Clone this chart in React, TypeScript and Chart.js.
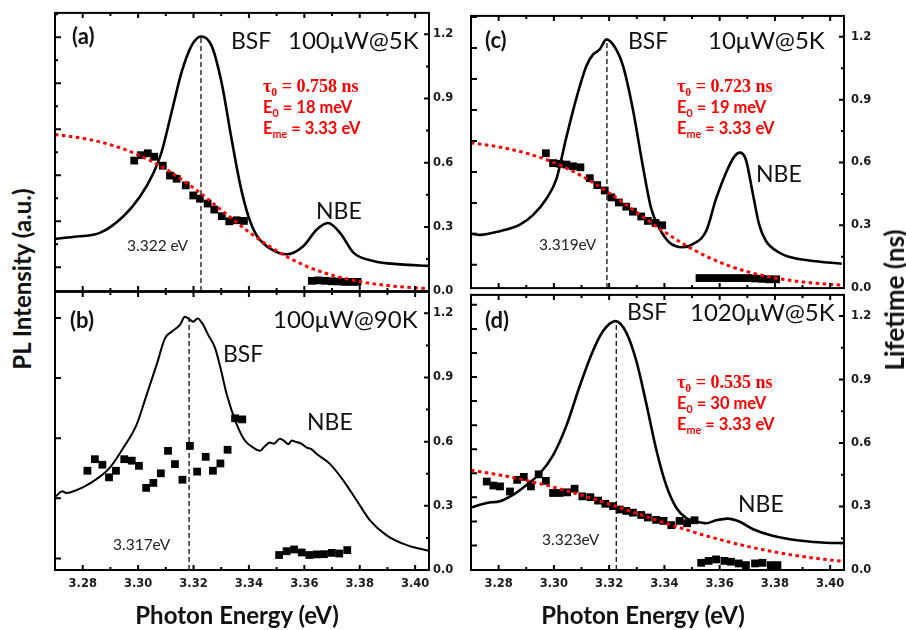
import React, { useEffect, useRef } from 'react';
import { Chart, registerables } from 'chart.js';

Chart.register(...registerables);

// ---------- shared axes ----------
const X_MIN = 3.27;
const X_MAX = 3.405;
const Y_MAX = 1.3;
const X_TICKS = [3.28, 3.3, 3.32, 3.34, 3.36, 3.38, 3.4];
const X_TICK_LABELS = ['3.28', '3.30', '3.32', '3.34', '3.36', '3.38', '3.40'];
const Y_TICKS = [0, 0.3, 0.6, 0.9, 1.2];
const Y_TICK_LABELS = ['0.0', '0.3', '0.6', '0.9', '1.2'];
const FIT_E = [3.27, 3.28, 3.29, 3.3, 3.31, 3.32, 3.33, 3.34, 3.35, 3.36, 3.37, 3.38, 3.39, 3.4, 3.405];

// ---------- panel (a) 100uW@5K ----------
const A_PL_E = [3.2703, 3.278, 3.2862, 3.2947, 3.3007, 3.3055, 3.3085, 3.3121, 3.3157, 3.3193, 3.3227, 3.3265, 3.3301, 3.3337, 3.3368, 3.3398, 3.3428, 3.3488, 3.3536, 3.3596, 3.3645, 3.3685, 3.3729, 3.3777, 3.3849, 3.3945, 3.405];
const A_PL_I = [0.245, 0.255, 0.272, 0.35, 0.442, 0.551, 0.651, 0.837, 1.023, 1.147, 1.19, 1.147, 0.976, 0.713, 0.5, 0.35, 0.26, 0.19, 0.172, 0.21, 0.288, 0.318, 0.272, 0.18, 0.141, 0.125, 0.118];
const A_LT_E = [3.2986, 3.301, 3.3035, 3.3058, 3.3089, 3.3115, 3.3139, 3.3172, 3.3199, 3.3223, 3.3251, 3.3275, 3.3302, 3.3329, 3.3356, 3.3382, 3.3627, 3.3651, 3.3675, 3.3699, 3.3723, 3.3747, 3.377, 3.3792];
const A_LT_V = [0.61, 0.635, 0.644, 0.628, 0.586, 0.54, 0.525, 0.494, 0.447, 0.432, 0.409, 0.381, 0.35, 0.326, 0.331, 0.328, 0.048, 0.05, 0.048, 0.046, 0.045, 0.043, 0.043, 0.043];
const A_FIT_V = [0.732, 0.714, 0.684, 0.637, 0.57, 0.482, 0.379, 0.276, 0.188, 0.1205, 0.0742, 0.0444, 0.0261, 0.0152, 0.0116];
const A_PEAK_E = 3.3227;
const A_PEAK_I = 1.19;

// ---------- panel (b) 100uW@90K ----------
const B_PL_E = [3.2704, 3.2715, 3.2727, 3.274, 3.2754, 3.2802, 3.2851, 3.2899, 3.2947, 3.2995, 3.3031, 3.3067, 3.3097, 3.3121, 3.3151, 3.3169, 3.3184, 3.3199, 3.3215, 3.3235, 3.3253, 3.3278, 3.33, 3.332, 3.3356, 3.3386, 3.3416, 3.344, 3.3455, 3.3476, 3.349, 3.3512, 3.353, 3.3542, 3.3555, 3.3566, 3.359, 3.3609, 3.3625, 3.3645, 3.3693, 3.3741, 3.3789, 3.3837, 3.3897, 3.397, 3.4048];
const B_PL_I = [0.344, 0.36, 0.368, 0.36, 0.362, 0.387, 0.426, 0.48, 0.572, 0.681, 0.82, 0.96, 1.083, 1.114, 1.146, 1.184, 1.173, 1.161, 1.176, 1.146, 1.099, 1.037, 0.93, 0.82, 0.681, 0.604, 0.572, 0.557, 0.575, 0.596, 0.59, 0.614, 0.6, 0.588, 0.605, 0.6, 0.59, 0.572, 0.565, 0.542, 0.495, 0.418, 0.325, 0.232, 0.162, 0.116, 0.09];
const B_LT_E = [3.2817, 3.2844, 3.2871, 3.2895, 3.292, 3.295, 3.2977, 3.3003, 3.3029, 3.3055, 3.3082, 3.3108, 3.3133, 3.316, 3.3187, 3.3213, 3.3244, 3.327, 3.3297, 3.3323, 3.335, 3.3376, 3.3509, 3.3536, 3.3563, 3.3591, 3.3618, 3.3645, 3.3671, 3.3699, 3.3726, 3.3755];
const B_LT_V = [0.464, 0.518, 0.492, 0.433, 0.464, 0.518, 0.511, 0.487, 0.384, 0.407, 0.452, 0.557, 0.495, 0.422, 0.58, 0.46, 0.529, 0.464, 0.498, 0.562, 0.709, 0.704, 0.07, 0.088, 0.096, 0.082, 0.07, 0.073, 0.074, 0.08, 0.077, 0.093];
const B_PEAK_E = 3.3184;
const B_PEAK_I = 1.18;

// ---------- panel (c) 10uW@5K ----------
const C_PL_E = [3.2703, 3.2732, 3.2805, 3.2877, 3.2925, 3.2973, 3.3009, 3.3045, 3.3082, 3.3118, 3.3142, 3.3166, 3.319, 3.3226, 3.325, 3.3286, 3.3322, 3.3352, 3.3382, 3.3418, 3.3466, 3.3503, 3.3551, 3.3587, 3.3623, 3.3653, 3.3674, 3.3695, 3.3719, 3.3743, 3.3767, 3.3815, 3.385, 3.3924, 3.4042];
const C_PL_I = [0.26, 0.254, 0.272, 0.303, 0.35, 0.427, 0.52, 0.72, 0.91, 1.062, 1.116, 1.14, 1.188, 1.139, 1.062, 0.853, 0.582, 0.381, 0.285, 0.218, 0.195, 0.21, 0.272, 0.427, 0.551, 0.628, 0.647, 0.613, 0.458, 0.303, 0.226, 0.17, 0.15, 0.132, 0.116];
const C_LT_E = [3.2971, 3.2997, 3.3021, 3.3045, 3.3069, 3.3096, 3.313, 3.3157, 3.3184, 3.3208, 3.3235, 3.3262, 3.3286, 3.3316, 3.334, 3.3368, 3.3392, 3.3527, 3.3552, 3.3577, 3.3602, 3.3628, 3.3653, 3.3678, 3.3703, 3.3728, 3.3754, 3.3779, 3.3804];
const C_LT_V = [0.644, 0.597, 0.594, 0.59, 0.582, 0.577, 0.525, 0.492, 0.466, 0.433, 0.409, 0.389, 0.365, 0.342, 0.321, 0.311, 0.3, 0.048, 0.048, 0.048, 0.048, 0.048, 0.048, 0.048, 0.048, 0.046, 0.044, 0.042, 0.042];
const C_FIT_V = [0.6935, 0.6745, 0.6445, 0.5994, 0.536, 0.4544, 0.3615, 0.2686, 0.187, 0.1236, 0.0785, 0.0485, 0.0295, 0.0177, 0.0137];
const C_PEAK_E = 3.3192;
const C_PEAK_I = 1.188;

// ---------- panel (d) 1020uW@5K ----------
const D_PL_E = [3.2703, 3.2757, 3.2805, 3.2853, 3.2901, 3.2949, 3.2997, 3.3045, 3.3093, 3.3142, 3.3178, 3.3223, 3.3262, 3.3298, 3.3334, 3.337, 3.3406, 3.3443, 3.3479, 3.3515, 3.3551, 3.3587, 3.3629, 3.3671, 3.3719, 3.3791, 3.3888, 3.3984, 3.4047];
const D_PL_I = [0.297, 0.317, 0.325, 0.356, 0.402, 0.456, 0.542, 0.681, 0.867, 1.037, 1.129, 1.176, 1.122, 0.99, 0.789, 0.572, 0.402, 0.294, 0.245, 0.229, 0.221, 0.235, 0.243, 0.229, 0.194, 0.162, 0.139, 0.129, 0.127];
const D_LT_E = [3.2757, 3.2781, 3.2805, 3.2841, 3.2867, 3.2891, 3.2917, 3.2945, 3.2971, 3.2997, 3.3021, 3.3048, 3.3075, 3.3103, 3.3132, 3.316, 3.3186, 3.3214, 3.3238, 3.3262, 3.3286, 3.3316, 3.334, 3.337, 3.3397, 3.3425, 3.3455, 3.3482, 3.3509, 3.3533, 3.356, 3.3587, 3.3617, 3.3641, 3.3669, 3.3695, 3.3728, 3.3755, 3.3785, 3.3809];
const D_LT_V = [0.418, 0.399, 0.395, 0.371, 0.426, 0.44, 0.395, 0.452, 0.421, 0.364, 0.364, 0.367, 0.384, 0.348, 0.344, 0.328, 0.313, 0.302, 0.286, 0.279, 0.271, 0.26, 0.248, 0.237, 0.232, 0.212, 0.232, 0.221, 0.235, 0.034, 0.043, 0.05, 0.043, 0.039, 0.031, 0.023, 0.031, 0.034, 0.023, 0.023];
const D_FIT_V = [0.4712, 0.45, 0.4234, 0.3911, 0.3535, 0.3117, 0.2675, 0.2233, 0.1815, 0.1439, 0.1116, 0.085, 0.0638, 0.0473, 0.0406];
const D_PEAK_E = 3.3226;
const D_PEAK_I = 1.176;

const pts = (xs: number[], ys: number[]) => xs.map((x, i) => ({ x, y: ys[i] }));

type PanelCfg = {
  id: string;
  left: number; top: number; w: number; h: number;
  xh: number; rw: number; tickPad: number; showX: boolean;
  plE: number[]; plI: number[]; plWidth: number;
  ltE: number[]; ltV: number[];
  fitV: number[] | null;
  peakE: number; peakI: number;
  lStart: number; lStep: number; lMinor: boolean;
};

const PANELS: PanelCfg[] = [
  { id: 'a', left: 45, top: 2, w: 420, h: 300, xh: 10, rw: 36, tickPad: 4, showX: false,
    plE: A_PL_E, plI: A_PL_I, plWidth: 2.6, ltE: A_LT_E, ltV: A_LT_V, fitV: A_FIT_V,
    peakE: A_PEAK_E, peakI: A_PEAK_I, lStart: 0.111, lStep: 0.215, lMinor: true },
  { id: 'b', left: 45, top: 281, w: 420, h: 319, xh: 30, rw: 36, tickPad: 4, showX: true,
    plE: B_PL_E, plI: B_PL_I, plWidth: 2, ltE: B_LT_E, ltV: B_LT_V, fitV: null,
    peakE: B_PEAK_E, peakI: B_PEAK_I, lStart: 0.054, lStep: 0.281, lMinor: false },
  { id: 'c', left: 461, top: 2, w: 445, h: 300, xh: 10, rw: 62, tickPad: 7, showX: false,
    plE: C_PL_E, plI: C_PL_I, plWidth: 2.6, ltE: C_LT_E, ltV: C_LT_V, fitV: C_FIT_V,
    peakE: C_PEAK_E, peakI: C_PEAK_I, lStart: 0.111, lStep: 0.148, lMinor: false },
  { id: 'd', left: 461, top: 281, w: 445, h: 319, xh: 30, rw: 62, tickPad: 7, showX: true,
    plE: D_PL_E, plI: D_PL_I, plWidth: 2.6, ltE: D_LT_E, ltV: D_LT_V, fitV: D_FIT_V,
    peakE: D_PEAK_E, peakI: D_PEAK_I, lStart: 0.116, lStep: 0.1137, lMinor: false },
];

function framePlugin(p: PanelCfg) {
  return {
    id: 'frame' + p.id,
    afterDatasetsDraw(chart: any) {
      const { ctx, chartArea } = chart;
      const { left, right, top, bottom } = chartArea;
      const xs = chart.scales.x;
      const ys = chart.scales.y1;
      ctx.save();
      ctx.strokeStyle = '#000';
      ctx.lineWidth = 2;
      ctx.beginPath();
      const xTick = (v: number, len: number) => {
        const px = xs.getPixelForValue(v);
        ctx.moveTo(px, bottom); ctx.lineTo(px, bottom - len);
        ctx.moveTo(px, top); ctx.lineTo(px, top + len);
      };
      X_TICKS.forEach((v, i) => {
        xTick(v, 5);
        if (i < X_TICKS.length - 1) xTick((v + X_TICKS[i + 1]) / 2, 3);
      });
      Y_TICKS.forEach((v, i) => {
        const py = ys.getPixelForValue(v);
        ctx.moveTo(right, py); ctx.lineTo(right - 5, py);
        const m = i < Y_TICKS.length - 1 ? (v + Y_TICKS[i + 1]) / 2 : v + (Y_TICKS[1] - Y_TICKS[0]) / 2;
        if (m < Y_MAX) {
          const pm = ys.getPixelForValue(m);
          ctx.moveTo(right, pm); ctx.lineTo(right - 3, pm);
        }
      });
      for (let t = p.lStart; t < Y_MAX; t += p.lStep) {
        const py = ys.getPixelForValue(t);
        ctx.moveTo(left, py); ctx.lineTo(left + 6, py);
        if (p.lMinor && t + p.lStep / 2 < Y_MAX) {
          const pm = ys.getPixelForValue(t + p.lStep / 2);
          ctx.moveTo(left, pm); ctx.lineTo(left + 3, pm);
        }
      }
      ctx.stroke();
      ctx.lineWidth = 2;
      ctx.strokeRect(left, top, right - left, bottom - top);
      ctx.restore();
    },
  };
}

function Panel({ p }: { p: PanelCfg }) {
  const ref = useRef<HTMLCanvasElement>(null);
  useEffect(() => {
    if (!ref.current) return;
    const datasets: any[] = [];
    if (p.fitV) {
      datasets.push({
        type: 'line', data: pts(FIT_E, p.fitV), borderColor: '#ff0000', borderWidth: 3,
        borderDash: [3.5, 3.5], pointRadius: 0, cubicInterpolationMode: 'monotone', yAxisID: 'y1', fill: false,
      });
    }
    datasets.push({
      type: 'scatter', data: pts(p.ltE, p.ltV), pointStyle: 'rect', pointRadius: 5.5,
      backgroundColor: '#000', borderColor: '#000', borderWidth: 0, showLine: false, yAxisID: 'y1',
    });
    datasets.push({
      type: 'line', data: pts(p.plE, p.plI), borderColor: '#000', borderWidth: p.plWidth,
      pointRadius: 0, cubicInterpolationMode: 'monotone', yAxisID: 'y', fill: false,
    });
    datasets.push({
      type: 'line', data: [{ x: p.peakE, y: 0 }, { x: p.peakE, y: p.peakI }], borderColor: '#222',
      borderWidth: 1.4, borderDash: [5, 3], pointRadius: 0, yAxisID: 'y', fill: false,
    });
    const tickFont = { family: '"DejaVu Sans"', size: 11.5, weight: 'bold' as const };
    const chart = new Chart(ref.current, {
      type: 'line',
      data: { datasets },
      options: {
        animation: false,
        responsive: false,
        events: [],
        layout: { padding: { left: 10, top: 10, right: 0, bottom: 0 } },
        plugins: { legend: { display: false }, tooltip: { enabled: false } },
        scales: {
          x: {
            type: 'linear', min: X_MIN, max: X_MAX, position: 'bottom',
            grid: { display: false, drawTicks: false }, border: { display: false },
            ticks: {
              display: p.showX, padding: 7, color: '#1a1a1a', font: tickFont, autoSkip: false, maxRotation: 0,
              callback: (v: any) => {
                const i = X_TICKS.findIndex((t) => Math.abs(t - Number(v)) < 1e-6);
                return i >= 0 ? X_TICK_LABELS[i] : '';
              },
            },
            afterBuildTicks: (s: any) => { s.ticks = X_TICKS.map((value) => ({ value })); },
            afterFit: (s: any) => { s.height = p.xh; },
          },
          y: { type: 'linear', display: false, min: 0, max: Y_MAX, position: 'left' },
          y1: {
            type: 'linear', position: 'right', min: 0, max: Y_MAX,
            grid: { display: false, drawTicks: false }, border: { display: false },
            ticks: {
              padding: p.tickPad, color: '#1a1a1a', font: tickFont, autoSkip: false,
              callback: (v: any) => {
                const i = Y_TICKS.findIndex((t) => Math.abs(t - Number(v)) < 1e-6);
                return i >= 0 ? Y_TICK_LABELS[i] : '';
              },
            },
            afterBuildTicks: (s: any) => { s.ticks = Y_TICKS.map((value) => ({ value })); },
            afterFit: (s: any) => { s.width = p.rw; },
          },
        },
      } as any,
      plugins: [framePlugin(p)],
    });
    return () => chart.destroy();
  }, [p]);
  return (
    <canvas
      ref={ref}
      width={p.w}
      height={p.h}
      style={{ position: 'absolute', left: p.left, top: p.top, width: p.w, height: p.h }}
    />
  );
}

const SANS = 'Lato, "Open Sans", sans-serif';

function T({ x, y, size, bold, family, color, children }: any) {
  return (
    <div
      style={{
        position: 'absolute', left: x, top: y - size / 2, fontSize: size, lineHeight: `${size}px`,
        fontWeight: bold ? 700 : 400, fontFamily: family || SANS, color: color || '#111', whiteSpace: 'nowrap',
      }}
    >
      {children}
    </div>
  );
}

const Sub = ({ children }: any) => (
  <span style={{ fontSize: '0.65em', position: 'relative', top: '0.35em' }}>{children}</span>
);

function FitText({ x, y, tau, e0, eme }: any) {
  return (
    <>
      <T x={x} y={y} size={18} bold family='"Liberation Serif", serif' color="#ff0000">
        τ<Sub>0</Sub> = {tau} ns
      </T>
      <T x={x} y={y + 21} size={16.5} bold color="#ff0000">
        E<Sub>0</Sub> = {e0} meV
      </T>
      <T x={x} y={y + 42} size={16.5} bold color="#ff0000">
        E<Sub>me</Sub> = {eme} eV
      </T>
    </>
  );
}

const titleStyle = (size: number): React.CSSProperties => ({
  position: 'absolute', fontFamily: SANS, fontWeight: 700, fontSize: size, lineHeight: `${size}px`,
  whiteSpace: 'nowrap', color: '#111',
});

export default function App() {
  return (
    <div style={{ position: 'fixed', left: 0, top: 0, width: 906, height: 630, background: '#fff', overflow: 'hidden' }}>
      {PANELS.map((p) => <Panel key={p.id} p={p} />)}

      {/* panel (a) */}
      <T x={72} y={36} size={22} bold>(a)</T>
      <T x={231} y={40} size={23}>BSF</T>
      <T x={288} y={40} size={24}>100μW@5K</T>
      <FitText x={263} y={86} tau="0.758" e0="18" eme="3.33" />
      <T x={316} y={210} size={23}>NBE</T>
      <T x={127} y={246} size={15.5} color="#222">3.322 eV</T>

      {/* panel (b) */}
      <T x={70} y={320} size={22} bold>(b)</T>
      <T x={273} y={319} size={24}>100μW@90K</T>
      <T x={223} y={353} size={23}>BSF</T>
      <T x={307} y={421} size={23}>NBE</T>
      <T x={113} y={545} size={15.5} color="#222">3.317eV</T>

      {/* panel (c) */}
      <T x={485} y={40} size={22} bold>(c)</T>
      <T x={628} y={40} size={23}>BSF</T>
      <T x={708} y={40} size={24}>10μW@5K</T>
      <FitText x={677} y={86} tau="0.723" e0="19" eme="3.33" />
      <T x={756} y={173} size={23}>NBE</T>
      <T x={539} y={245} size={15.5} color="#222">3.319eV</T>

      {/* panel (d) */}
      <T x={485} y={320} size={22} bold>(d)</T>
      <T x={627} y={311} size={23}>BSF</T>
      <T x={690} y={312} size={24}>1020μW@5K</T>
      <FitText x={677} y={382} tau="0.535" e0="30" eme="3.33" />
      <T x={738} y={503} size={23}>NBE</T>
      <T x={542} y={540} size={15.5} color="#222">3.323eV</T>

      {/* global axis titles */}
      <div style={{ ...titleStyle(24), left: 22, top: 279, transform: 'translate(-50%,-50%) rotate(-90deg)' }}>
        PL Intensity (a.u.)
      </div>
      <div style={{ ...titleStyle(26), left: 894, top: 300, transform: 'translate(-50%,-50%) rotate(-90deg)' }}>
        Lifetime (ns)
      </div>
      <div style={{ ...titleStyle(24), left: 237, top: 615, transform: 'translate(-50%,-50%)' }}>
        Photon Energy (eV)
      </div>
      <div style={{ ...titleStyle(24), left: 643, top: 615, transform: 'translate(-50%,-50%)' }}>
        Photon Energy (eV)
      </div>
    </div>
  );
}
